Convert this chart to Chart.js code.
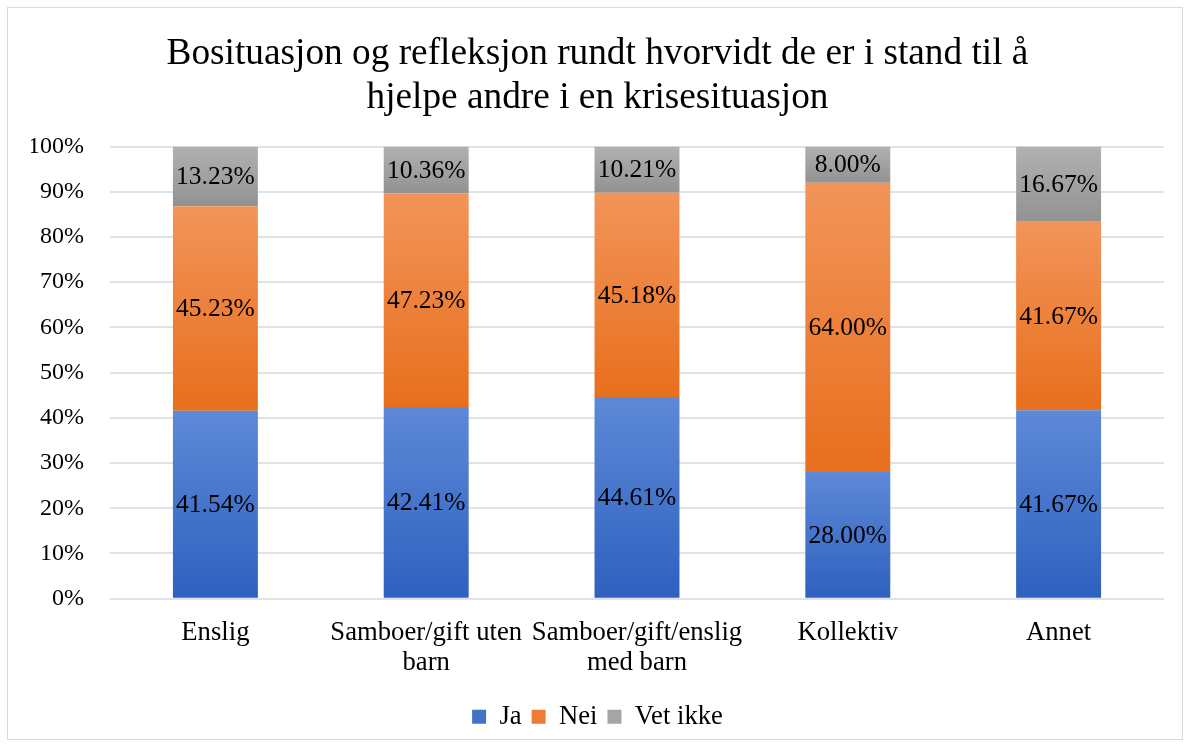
<!DOCTYPE html>
<html>
<head>
<meta charset="utf-8">
<script src="https://cdn.jsdelivr.net/npm/chart.js@4.4.1/dist/chart.umd.min.js"></script>
<style>
  html, body { margin: 0; padding: 0; background: #fff; }
  #wrap { position: relative; width: 1190px; height: 747px; }
</style>
</head>
<body>
<div id="wrap"><canvas id="chart" width="1190" height="747"></canvas></div>
<script>
// Chart data
const categories = [
    'Enslig',
    ['Samboer/gift uten', 'barn'],
    ['Samboer/gift/enslig', 'med barn'],
    'Kollektiv',
    'Annet'
];
const jaValues = [41.54, 42.41, 44.61, 28.00, 41.67];
const neiValues = [45.23, 47.23, 45.18, 64.00, 41.67];
const vetIkkeValues = [13.23, 10.36, 10.21, 8.00, 16.67];
const yTicks = [0, 10, 20, 30, 40, 50, 60, 70, 80, 90, 100];

const titleLines = [
    'Bosituasjon og refleksjon rundt hvorvidt de er i stand til å',
    'hjelpe andre i en krisesituasjon'
];

const serif = "'Liberation Serif', 'Times New Roman', serif";

// gradient per stacked segment, lighter at top
function segmentFill(top, bottom) {
    return function (ctx) {
        const chart = ctx.chart;
        if (!chart.chartArea || ctx.type !== 'data') return bottom;
        const y = chart.scales.y;
        let start = 0;
        for (let d = 0; d < ctx.datasetIndex; d++) {
            start += chart.data.datasets[d].data[ctx.dataIndex];
        }
        const end = start + ctx.raw;
        const g = chart.ctx.createLinearGradient(0, y.getPixelForValue(end), 0, y.getPixelForValue(start));
        g.addColorStop(0, top);
        g.addColorStop(1, bottom);
        return g;
    };
}

// draw value labels in the middle of each segment
const segmentLabels = {
    id: 'segmentLabels',
    afterDatasetsDraw(chart) {
        const c = chart.ctx;
        c.save();
        c.font = '25.5px ' + serif;
        c.fillStyle = '#000';
        c.textAlign = 'center';
        c.textBaseline = 'middle';
        chart.data.datasets.forEach((ds, di) => {
            const meta = chart.getDatasetMeta(di);
            meta.data.forEach((bar, i) => {
                const p = bar.getProps(['x', 'y', 'base'], true);
                c.fillText(ds.data[i].toFixed(2) + '%', p.x, (p.y + p.base) / 2 + 1);
            });
        });
        c.restore();
    }
};

// light frame around the whole chart
const chartFrame = {
    id: 'chartFrame',
    beforeDraw(chart) {
        const c = chart.ctx;
        c.save();
        c.strokeStyle = '#d9d9d9';
        c.lineWidth = 1;
        c.strokeRect(7.5, 7.5, chart.width - 15, chart.height - 15);
        c.restore();
    }
};

const legendColors = ['#4472c4', '#ed7d31', '#a5a5a5'];

new Chart(document.getElementById('chart'), {
    type: 'bar',
    data: {
        labels: categories,
        datasets: [
            { label: 'Ja', data: jaValues, backgroundColor: segmentFill('#5d89d7', '#2e60bf') },
            { label: 'Nei', data: neiValues, backgroundColor: segmentFill('#f29459', '#e86f1d') },
            { label: 'Vet ikke', data: vetIkkeValues, backgroundColor: segmentFill('#b1b1b1', '#929292') }
        ]
    },
    options: {
        responsive: false,
        animation: false,
        layout: { padding: { left: 31, right: 26, top: 20, bottom: 7 } },
        datasets: { bar: { barPercentage: 0.403, categoryPercentage: 1 } },
        plugins: {
            title: {
                display: true,
                text: titleLines,
                color: '#000',
                font: { family: serif, size: 37.3, weight: 'normal', lineHeight: 1.16 },
                padding: { top: 13, bottom: 27 }
            },
            legend: {
                position: 'bottom',
                labels: {
                    color: '#000',
                    font: { family: serif, size: 26.67 },
                    boxWidth: 14,
                    boxHeight: 14,
                    padding: 10,
                    generateLabels(chart) {
                        return chart.data.datasets.map((ds, i) => ({
                            text: ds.label,
                            fillStyle: legendColors[i],
                            strokeStyle: legendColors[i],
                            lineWidth: 0,
                            datasetIndex: i
                        }));
                    }
                }
            },
            tooltip: { enabled: false }
        },
        scales: {
            x: {
                stacked: true,
                grid: { display: false },
                border: { display: false },
                ticks: { color: '#000', font: { family: serif, size: 26.67, lineHeight: 1.1 }, padding: 12, maxRotation: 0, autoSkip: false },
                afterFit(scale) {
                    scale.height += 4;
                }
            },
            y: {
                stacked: true,
                min: 0,
                max: 100,
                afterBuildTicks(scale) {
                    scale.ticks = yTicks.map(v => ({ value: v }));
                },
                afterFit(scale) {
                    scale.width = 79;
                },
                grid: { color: '#dfe3e8', lineWidth: 2, drawTicks: false },
                border: { display: false },
                ticks: {
                    color: '#000',
                    font: { family: serif, size: 24 },
                    padding: 26,
                    callback: v => v + '%'
                }
            }
        }
    },
    plugins: [segmentLabels, chartFrame]
});
</script>
</body>
</html>
